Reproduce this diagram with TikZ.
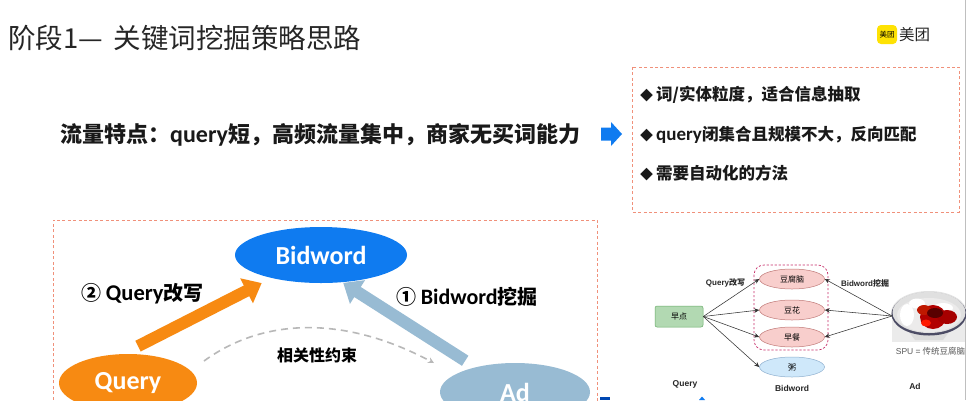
\documentclass[tikz,border=0pt]{standalone}
\usepackage{fontspec}
\usetikzlibrary{shapes.geometric,arrows.meta}
\setmainfont{Noto Sans CJK SC}
\newfontfamily\latb[BoldFont=Carlito Bold]{Carlito}
\newfontfamily\arialf{Liberation Sans}
\newcommand{\fs}[1]{\fontsize{#1}{#1}\selectfont}
\newcommand{\ltn}[1]{{\latb\bfseries #1}}
\definecolor{dashred}{HTML}{F0907A}
\definecolor{bluemain}{HTML}{0F7BF0}
\definecolor{orangemain}{HTML}{F78A12}
\definecolor{steel}{HTML}{98BBD3}
\definecolor{pinkfill}{HTML}{F8CECC}
\definecolor{pinkline}{HTML}{C07A78}
\definecolor{skyfill}{HTML}{CFE8FA}
\definecolor{skyline}{HTML}{8FB0CF}
\tikzset{
  x=1pt,y=-1pt,
  bigell/.style={ellipse,inner sep=0pt,text=white,font=\bfseries\fs{26}\latb},
  smallell/.style={ellipse,draw=pinkline,fill=pinkfill,line width=.5pt,minimum width=65pt,minimum height=20pt,inner sep=0pt,font=\fs{8}},
  dashbox/.style={draw=dashred,line width=.8pt,dash pattern=on 3pt off 2.4pt},
  fatarrow/.style={line width=12pt},
  thinarrow/.style={draw=black!80,line width=.55pt,-{Stealth[length=5pt,width=4.5pt]}},
  blab/.style={inner sep=0pt,font=\bfseries\fs{16.5},anchor=west,text=black!90},
  smlab/.style={inner sep=0pt,font=\bfseries\fs{8},text=black!85},
  midlab/.style={inner sep=0pt,font=\bfseries\fs{20},text=black},
}
\begin{document}
\begin{tikzpicture}
\useasboundingbox (0,0) rectangle (966,400);
\clip (0,0) rectangle (966,400);
\fill[white] (0,0) rectangle (966,400);
\draw[black!25,line width=.8pt] (965.5,0) -- (965.5,400);

% title and logo
\node[inner sep=0pt,anchor=west,font=\fs{27.5},text=black!85] (title) at (8,38) {阶段1—\hspace{4.5pt} 关键词挖掘策略思路};
\node[fill=yellow!85!orange,rounded corners=4pt,minimum width=20pt,minimum height=19pt,inner sep=0pt,font=\fs{7.5}] (logoicon) at (887,34.5) {美团};
\node[inner sep=0pt,font=\fs{15.5},text=black!85] (logotext) at (914.5,34.5) {美团};

% headline
\node[inner sep=0pt,anchor=west,font=\bfseries\fs{22},text=black!90] (head) at (60,134.5) {流量特点：\ltn{\fs{24}query}短，高频流量集中，商家无买词能力};
\fill[bluemain] (601,127.5) -- (611,127.5) -- (611,122) -- (622,134) -- (611,146) -- (611,140.5) -- (601,140.5) -- cycle;

% right text box
\draw[dashbox] (632,67) rectangle (959,212);
\node[blab] (b1) at (640,95) {\fs{13}◆\hspace{3pt}\fs{16.5}词/实体粒度，适合信息抽取};
\node[blab] (b2) at (640,134.5) {\fs{13}◆\hspace{3pt}\ltn{\fs{19}query}\fs{16.5}闭集合且规模不大，反向匹配};
\node[blab] (b3) at (640,173) {\fs{13}◆\hspace{3pt}\fs{16.5}需要自动化的方法};

% left triangle panel
\draw[dashbox] (53,405) -- (53,220) -- (597,220) -- (597,405);
\node[bigell,fill=bluemain,minimum width=172pt,minimum height=56pt] (bid) at (321,255) {Bidword};
\node[bigell,fill=orangemain,minimum width=138pt,minimum height=58pt] (qry) at (128,383) {\raisebox{-3.5pt}{Query}};
\node[bigell,fill=steel,minimum width=150pt,minimum height=58pt] (ad) at (515,392) {Ad};
\draw[orangemain,fatarrow,-{Triangle[length=17pt,width=27pt]},shorten <=17pt,shorten >=11pt] (qry.100) -- (bid.205);
\draw[steel,fatarrow,-{Triangle[length=17pt,width=27pt]},shorten <=12pt,shorten >=1pt] (ad.148) -- (bid.308);
\coordinate (cs) at (204,361);
\coordinate (ce) at (434,363);
\draw[black!28,line width=1.6pt,dash pattern=on 7pt off 5pt,-{Stealth[length=6pt,width=6pt]}] (cs) .. controls (260,320) and (340,313) .. (ce);
\node[inner sep=0pt,font=\bfseries\fs{16},text=black] (rel) at (317,355.5) {相关性约束};
\node[midlab] (l2) at (142.5,293.5) {② \ltn{\fs{22.5}Query}改写};
\node[midlab] (l1) at (467,297) {① \ltn{\fs{22}Bidword}挖掘};

% fragments at the bottom edge
\fill[blue!60!cyan!70!black] (600,397) rectangle (610,400);
\fill[bluemain] (702,396.5) -- (705,400) -- (699,400) -- cycle;

% small diagram
\draw[draw=magenta!70!red!80!black,line width=.7pt,dash pattern=on 2.2pt off 1.8pt,rounded corners=10pt] (754,265) rectangle (828,350);
\node[draw=green!45!black!60,fill=green!50!black!30!white,rounded corners=2pt,minimum width=48pt,minimum height=21pt,inner sep=0pt,font=\fs{8},line width=.5pt] (zd) at (679,316.5) {早点};
\node[smallell] (e1) at (792,279) {豆腐脑};
\node[smallell] (e2) at (792,310) {豆花};
\node[smallell] (e3) at (792,337) {早餐};
\node[smallell,draw=skyline,fill=skyfill] (e4) at (792,367) {粥};
\foreach \t in {e1,e2,e3,e4} \draw[thinarrow] (zd.east) -- (\t.west);

% bowl picture
\fill[black!8] (892,310) rectangle (965,342);
\fill[black!14] (906,328) -- (952,328) -- (943,340) -- (915,340) -- cycle;
\fill[black!12] (929,313) ellipse [x radius=38,y radius=22];
\fill[black!55!blue!30!black!70] (929,314) ellipse [x radius=37.5,y radius=21.5];
\fill[black!12] (929,312.5) ellipse [x radius=36.5,y radius=20.5];
\fill[orange!8!black!8] (929,315) ellipse [x radius=32,y radius=17];
\fill[white] (907,315) ellipse [x radius=7,y radius=11];
\fill[white] (917,303.5) ellipse [x radius=8,y radius=5];
\fill[white] (943,308) ellipse [x radius=10,y radius=5];
\fill[red!70!black] (933,317) ellipse [x radius=13,y radius=12];
\fill[red!65!black] (947,317) ellipse [x radius=10,y radius=7];
\fill[red!75!orange!75!black] (924,310) ellipse [x radius=7,y radius=5];
\fill[red!35!black] (935,313) ellipse [x radius=8,y radius=5];
\fill[red!80!orange] (926,323) ellipse [x radius=5,y radius=3.5];
\coordinate (bowl) at (892,316);
\draw[thinarrow] (bowl) -- (e1.east);
\draw[thinarrow] (bowl) -- (e2.east);
\draw[thinarrow] (bowl) -- (e3.east);
\node[inner sep=0pt,font=\fs{8.5},text=black!65] (spu) at (930.5,351) {{\arialf SPU =} 传统豆腐脑};
\node[smlab] (t1) at (725.5,283) {{\arialf\bfseries Query}改写};
\node[smlab] (t2) at (865,283) {{\arialf\bfseries Bidword}挖掘};
\node[smlab,font=\arialf\bfseries\fs{8.5}] (t3) at (685,384) {Query};
\node[smlab,font=\arialf\bfseries\fs{8.5}] (t4) at (792,388) {Bidword};
\node[smlab,font=\arialf\bfseries\fs{8.5}] (t5) at (915,386) {Ad};
\end{tikzpicture}
\end{document}
